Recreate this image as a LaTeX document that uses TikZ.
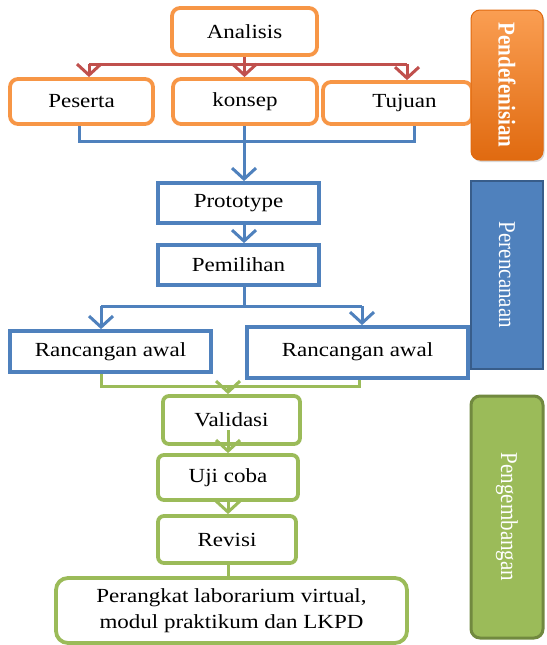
\documentclass[tikz,border=0pt]{standalone}
\usepackage{fontspec}
\setmainfont{Liberation Serif}[FakeStretch=1.15]
\newfontfamily\sidefont{Liberation Serif}
\usetikzlibrary{arrows.meta,shadows}
\definecolor{orng}{HTML}{F79646}
\definecolor{orngL}{HTML}{FA9E52}
\definecolor{orngD}{HTML}{E06A10}
\definecolor{redc}{HTML}{C0504D}
\definecolor{bluc}{HTML}{4F81BD}
\definecolor{bluD}{HTML}{385D8A}
\definecolor{grnc}{HTML}{9BBB59}
\definecolor{grnD}{HTML}{71893F}
\begin{document}
\begin{tikzpicture}[x=1pt,y=-1pt,
  box/.style={draw, line width=3.8pt, fill=white, inner sep=0pt, align=center,
    font=\fontsize{20}{26}\selectfont},
  obox/.style={box, draw=orng, rounded corners=8pt},
  bbox/.style={box, draw=bluc},
  gbox/.style={box, draw=grnc, rounded corners=6pt},
  conn/.style={line width=3pt},
  arr/.style={conn, -{Straight Barb[length=11pt,width=24pt]}},
  sidebox/.style={inner sep=0pt},
  sidetext/.style={rotate=-90, inner sep=0pt, text=white,
    font=\sidefont\fontsize{21}{24}\selectfont}
]
\useasboundingbox (0,0) rectangle (546,645);
\fill[white] (0,0) rectangle (546,645);

% Pendefenisian stage
\node[obox, minimum width=145pt, minimum height=47pt] (ana) at (244.5,31.5) {Analisis};
\node[obox, minimum width=143pt, minimum height=45pt] (pes) at (81.5,101.5) {Peserta};
\node[obox, minimum width=144pt, minimum height=45pt] (kon) at (245,101.5) {konsep};
\node[obox, minimum width=149pt, minimum height=42pt] (tuj) at (397.5,103) {\hspace*{14pt}Tujuan};

% Perencanaan stage
\node[bbox, minimum width=161pt, minimum height=40pt] (proto) at (238.5,203) {Prototype};
\node[bbox, minimum width=161pt, minimum height=40pt] (pem) at (238.5,265) {Pemilihan};
\node[bbox, minimum width=201pt, minimum height=41pt] (ra1) at (110.5,351.5) {Rancangan awal};
\node[bbox, minimum width=221pt, minimum height=51pt] (ra2) at (357.5,352.5) {\raisebox{5pt}{Rancangan awal}};

% Pengembangan stage
\node[gbox, minimum width=137pt, minimum height=48pt] (val) at (231.5,420) {Validasi};
\node[gbox, minimum width=140pt, minimum height=45pt] (uji) at (228,477.5) {Uji coba};
\node[gbox, minimum width=138pt, minimum height=47pt] (rev) at (227,539.5) {Revisi};
\node[gbox, minimum width=351pt, minimum height=65pt, rounded corners=12pt] (fin) at (231.5,610.5)
  {Perangkat laborarium virtual,\\modul praktikum dan LKPD};

% red connectors
\coordinate (rL) at (89,64);
\coordinate (rR) at (407,64);
\draw[conn, redc] (ana.south) -- (ana.south |- rL);
\draw[conn, redc] (rL) -- (rR);
\draw[arr, redc] (rL) -- (rL |- pes.north);
\draw[arr, redc] (ana.south |- rL) -- (ana.south |- kon.north);
\draw[arr, redc] (rR) -- (rR |- tuj.north);

% blue connectors
\coordinate (bL) at (79,141);
\coordinate (bR) at (414,141);
\coordinate (bx) at (244,0);
\draw[conn, bluc] (bL |- pes.south) -- (bL) -- (bR) -- (bR |- tuj.south);
\draw[conn, bluc] (bx |- kon.south) -- (bx |- bL);
\draw[arr, bluc] (bx |- bL) -- (bx |- proto.north);
\draw[arr, bluc] (bx |- proto.south) -- (bx |- pem.north);
\coordinate (pL) at (101,306);
\coordinate (pR) at (362,306);
\draw[conn, bluc] (bx |- pem.south) -- (bx |- pL);
\draw[conn, bluc] (pL) -- (pR);
\draw[arr, bluc] (pL) -- (pL |- ra1.north);
\draw[arr, bluc] (pR) -- (pR |- ra2.north);

% green connectors
\coordinate (gL) at (101,386);
\coordinate (gR) at (359,386);
\coordinate (gx) at (228,0);
\coordinate (vs) at (228,430);
\draw[conn, grnc] (gL |- ra1.south) -- (gL) -- (gR) -- (gR |- ra2.south);
\draw[arr, grnc] (gx |- gL) -- (gx |- val.north);
\draw[arr, grnc] (vs) -- (gx |- uji.north);
\draw[arr, grnc] (gx |- uji.south) -- (gx |- rev.north);
\draw[conn, grnc] (gx |- rev.south) -- (gx |- fin.north);

% side stage labels
\node[sidebox, minimum width=72pt, minimum height=150pt, rounded corners=9pt,
  top color=orngL, bottom color=orngD, draw=orngD, line width=1pt,
  drop shadow={opacity=0.3, shadow xshift=1.5pt, shadow yshift=-2pt}] (sd) at (507,85) {};
\node[sidetext] (sdt) at (sd.center) {\scalebox{1}[1.15]{\textbf{Pendefenisian}}};
\node[sidebox, minimum width=72pt, minimum height=188pt, fill=bluc, draw=bluD, line width=2.5pt] (sp) at (507,275) {};
\node[sidetext] (spt) at (sp.center) {\scalebox{1}[1.15]{Perencanaan}};
\node[sidebox, minimum width=72pt, minimum height=242pt, rounded corners=9pt, fill=grnc, draw=grnD, line width=3pt] (sg) at (507,517) {};
\node[sidetext] (sgt) at (sg.center) {\scalebox{1}[1.15]{Pengembangan}};
\end{tikzpicture}
\end{document}
